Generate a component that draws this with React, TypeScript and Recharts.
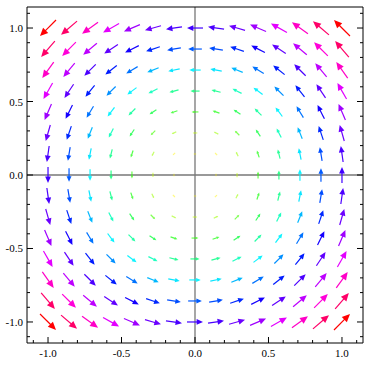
import {
  ScatterChart,
  Scatter,
  XAxis,
  YAxis,
  ReferenceLine,
} from "recharts";

// grid positions of the arrows (15 x 15)
const gridSteps = [
  -1, -0.857, -0.714, -0.571, -0.429, -0.286, -0.143, 0, 0.143, 0.286, 0.429,
  0.571, 0.714, 0.857, 1,
];
// circulation component read at each grid position: u = -swirl[row], v = swirl[col]
const swirl = [
  -1, -0.857, -0.714, -0.571, -0.429, -0.286, -0.143, 0, 0.143, 0.286, 0.429,
  0.571, 0.714, 0.857, 1,
];
const majorTicks = [-1, -0.5, 0, 0.5, 1];
const allTicks = [
  -1.1, -1, -0.9, -0.8, -0.7, -0.6, -0.5, -0.4, -0.3, -0.2, -0.1, 0, 0.1, 0.2,
  0.3, 0.4, 0.5, 0.6, 0.7, 0.8, 0.9, 1, 1.1,
];

const DOMAIN: [number, number] = [-1.143, 1.143];
const PX_PER_UNIT = 16;

const points = gridSteps.flatMap((y, j) =>
  gridSteps.map((x, i) => ({ x, y, u: -swirl[j], v: swirl[i] }))
);

const arrowColor = (m: number) => {
  const h = Math.min(0.999, Math.max(0.16, 0.16 + (0.84 * (m - 0.22)) / (1.414 - 0.22)));
  return `hsl(${h * 360}, 100%, 50%)`;
};

const Arrow = (props: any) => {
  const { cx, cy, payload } = props;
  const m = Math.hypot(payload.u, payload.v);
  if (m < 1e-6) return <g />;
  const dx = payload.u * PX_PER_UNIT;
  const dy = -payload.v * PX_PER_UNIT;
  const len = Math.hypot(dx, dy);
  const ux = dx / len;
  const uy = dy / len;
  const x1 = cx - dx / 2;
  const y1 = cy - dy / 2;
  const x2 = cx + dx / 2;
  const y2 = cy + dy / 2;
  const hl = Math.min(8, len * 0.4);
  const hw = Math.min(3.6, len * 0.18);
  const bx = x2 - ux * hl;
  const by = y2 - uy * hl;
  const c = arrowColor(m);
  const op = Math.min(1, 0.3 + m * 0.9);
  return (
    <g opacity={op}>
      <line x1={x1} y1={y1} x2={bx + ux} y2={by + uy} stroke={c} strokeWidth={1.2} />
      <polygon
        points={`${x2},${y2} ${bx - uy * hw},${by + ux * hw} ${bx + uy * hw},${by - ux * hw}`}
        fill={c}
      />
    </g>
  );
};

const fmt = (v: number) => v.toFixed(1);
const isMajor = (v: number) => majorTicks.includes(v);
const font = { fontFamily: "Liberation Serif, Times New Roman, serif", fontSize: 11, fill: "#000" };

const BottomTick = ({ x, y, payload }: any) => (
  <g>
    <line x1={x} y1={y} x2={x} y2={y - (isMajor(payload.value) ? 6 : 3)} stroke="#000" />
    {isMajor(payload.value) && (
      <text x={x} y={y + 14} textAnchor="middle" {...font}>
        {fmt(payload.value)}
      </text>
    )}
  </g>
);
const TopTick = ({ x, y, payload }: any) => (
  <line x1={x} y1={y} x2={x} y2={y + (isMajor(payload.value) ? 6 : 3)} stroke="#000" />
);
const LeftTick = ({ x, y, payload }: any) => (
  <g>
    <line x1={x} y1={y} x2={x + (isMajor(payload.value) ? 6 : 3)} y2={y} stroke="#000" />
    {isMajor(payload.value) && (
      <text x={x - 4} y={y + 4} textAnchor="end" {...font}>
        {fmt(payload.value)}
      </text>
    )}
  </g>
);
const RightTick = ({ x, y, payload }: any) => (
  <line x1={x} y1={y} x2={x - (isMajor(payload.value) ? 6 : 3)} y2={y} stroke="#000" />
);

export default function App() {
  return (
    <div style={{ position: "absolute", left: 0, top: 0, background: "#fff" }}>
      <ScatterChart width={373} height={367} margin={{ top: 0, right: 0, bottom: 0, left: 0 }}>
        <XAxis
          dataKey="x"
          type="number"
          domain={DOMAIN}
          ticks={allTicks}
          interval={0}
          height={24}
          tickSize={0}
          tickMargin={0}
          tickLine={false}
          tick={<BottomTick />}
          axisLine={{ stroke: "#000" }}
          allowDataOverflow
        />
        <XAxis
          xAxisId="top"
          orientation="top"
          type="number"
          domain={DOMAIN}
          ticks={allTicks}
          interval={0}
          height={7}
          tickSize={0}
          tickMargin={0}
          tickLine={false}
          tick={<TopTick />}
          axisLine={{ stroke: "#000" }}
          allowDataOverflow
        />
        <YAxis
          dataKey="y"
          type="number"
          domain={DOMAIN}
          ticks={allTicks}
          interval={0}
          width={27}
          tickSize={0}
          tickMargin={0}
          tickLine={false}
          tick={<LeftTick />}
          axisLine={{ stroke: "#000" }}
          allowDataOverflow
        />
        <YAxis
          yAxisId="right"
          orientation="right"
          type="number"
          domain={DOMAIN}
          ticks={allTicks}
          interval={0}
          width={10}
          tickSize={0}
          tickMargin={0}
          tickLine={false}
          tick={<RightTick />}
          axisLine={{ stroke: "#000" }}
          allowDataOverflow
        />
        <ReferenceLine x={0} stroke="#777" strokeWidth={1.3} />
        <ReferenceLine y={0} stroke="#777" strokeWidth={1.3} />
        <Scatter data={points} shape={<Arrow />} isAnimationActive={false} />
      </ScatterChart>
    </div>
  );
}
